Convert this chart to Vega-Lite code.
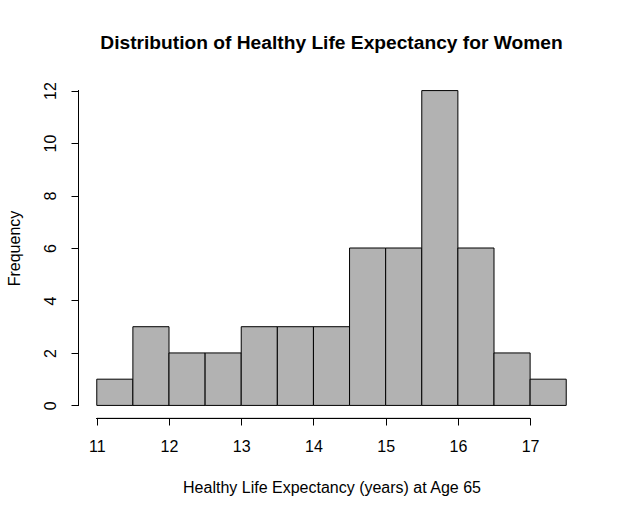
{
  "$schema": "https://vega.github.io/schema/vega-lite/v6.json",
  "width": 507,
  "height": 340,
  "autosize": {"type": "none"},
  "padding": {"left": 78, "top": 78, "right": 41, "bottom": 98},
  "background": "white",
  "config": {
    "view": {"stroke": null},
    "font": "Liberation Sans"
  },
  "title": {"text": "Distribution of Healthy Life Expectancy for Women", "font": "Liberation Sans", "fontSize": 19.2, "fontWeight": "bold", "color": "black", "anchor": "middle", "offset": 25},
  "data": {"values": [
    {"start": 11.0, "end": 11.5, "count": 1},
    {"start": 11.5, "end": 12.0, "count": 3},
    {"start": 12.0, "end": 12.5, "count": 2},
    {"start": 12.5, "end": 13.0, "count": 2},
    {"start": 13.0, "end": 13.5, "count": 3},
    {"start": 13.5, "end": 14.0, "count": 3},
    {"start": 14.0, "end": 14.5, "count": 3},
    {"start": 14.5, "end": 15.0, "count": 6},
    {"start": 15.0, "end": 15.5, "count": 6},
    {"start": 15.5, "end": 16.0, "count": 12},
    {"start": 16.0, "end": 16.5, "count": 6},
    {"start": 16.5, "end": 17.0, "count": 2},
    {"start": 17.0, "end": 17.5, "count": 1}
  ]},
  "layer": [
    {
      "mark": {"type": "bar", "fill": "#b2b2b2", "stroke": "black", "strokeWidth": 1},
      "encoding": {
        "x": {"field": "start", "type": "quantitative", "scale": {"domain": [10.74, 17.76], "nice": false, "zero": false},
          "axis": {"values": [11, 12, 13, 14, 15, 16, 17], "format": "d", "domain": false, "grid": false, "title": "Healthy Life Expectancy (years) at Age 65",
            "labelFont": "Liberation Sans", "labelFontSize": 16, "labelColor": "black", "tickColor": "black", "tickSize": 7, "labelPadding": 13,
            "titleFont": "Liberation Sans", "titleFontSize": 16, "titleFontWeight": "normal", "titleColor": "black", "titlePadding": 25}},
        "x2": {"field": "end"},
        "y": {"field": "count", "type": "quantitative", "scale": {"domain": [-0.48, 12.48], "nice": false, "zero": false},
          "axis": {"values": [0, 2, 4, 6, 8, 10, 12], "format": "d", "domain": false, "grid": false, "title": "Frequency",
            "labelFont": "Liberation Sans", "labelFontSize": 16, "labelColor": "black", "tickColor": "black", "tickSize": 7,
            "labelAngle": -90, "labelAlign": "center", "labelBaseline": "bottom", "labelPadding": 13,
            "titleFont": "Liberation Sans", "titleFontSize": 16, "titleFontWeight": "normal", "titleColor": "black", "titlePadding": 20}},
        "y2": {"datum": 0}
      }
    },
    {
      "mark": {"type": "rule", "color": "black", "strokeWidth": 1},
      "encoding": {
        "x": {"datum": 11}, "x2": {"datum": 17}, "y": {"datum": -0.499}
      }
    },
    {
      "mark": {"type": "rule", "color": "black", "strokeWidth": 1},
      "encoding": {
        "x": {"datum": 10.747}, "y": {"datum": 0}, "y2": {"datum": 12}
      }
    }
  ]
}
